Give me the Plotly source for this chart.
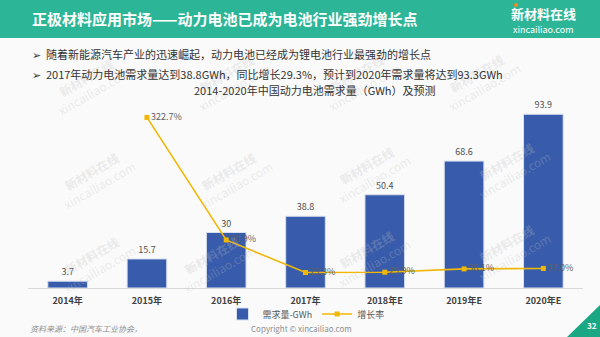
import plotly.graph_objects as go

categories = ["2014年", "2015年", "2016年", "2017年", "2018年E", "2019年E", "2020年E"]
demand = [3.7, 15.7, 30, 38.8, 50.4, 68.6, 93.9]
growth = [None, 322.7, 90.9, 29.3, 29.9, 36.1, 37.0]

W, H = 600, 337
FONT = "Noto Sans CJK SC, Noto Sans, sans-serif"

def px(x):
    return x / W

def py(y):
    return 1 - y / H

fig = go.Figure()

fig.add_trace(go.Bar(
    x=categories, y=demand, name="需求量-GWh",
    marker=dict(color="#385cab", line=dict(color="#d9e0ee", width=1)),
    width=0.5,
    text=[f"{v:g}" for v in demand], textposition="outside",
    textfont=dict(size=9, color="#505050", family=FONT),
    cliponaxis=False,
))

fig.add_trace(go.Scatter(
    x=categories, y=growth, name="增长率", yaxis="y2",
    mode="lines+markers+text",
    line=dict(color="#f2b705", width=1.6),
    marker=dict(symbol="square", size=5, color="#f2b705"),
    text=[("" if v is None else f"{v:.1f}%") for v in growth],
    textposition="middle right",
    textfont=dict(size=9, color="#606060", family=FONT),
    cliponaxis=False,
))

shapes = [
    dict(type="rect", xref="paper", yref="paper", x0=0, x1=1, y0=py(38), y1=1,
         fillcolor="#2cb596", line=dict(width=0), layer="below"),
    dict(type="path", xref="paper", yref="paper",
         path=f"M {px(567)} {py(337)} L {px(600)} {py(337)} L {px(600)} {py(305)} Z",
         fillcolor="#19a883", line=dict(width=0)),
    dict(type="circle", xref="paper", yref="paper",
         x0=px(514), x1=px(518), y0=py(7), y1=py(3),
         fillcolor="#f08a24", line=dict(width=0)),
]

def ann(text, x, y, size, color, xanchor="center", angle=0):
    return dict(text=text, x=px(x), y=py(y), xref="paper", yref="paper",
                xanchor=xanchor, yanchor="middle", showarrow=False, textangle=angle,
                font=dict(size=size, color=color, family=FONT))

annotations = []

# faint watermarks (drawn first, behind the rest)
for wx, wy in [(90, 85), (230, 80), (360, 80), (480, 80),
               (95, 178), (232, 178), (370, 172), (510, 168),
               (95, 262), (215, 262), (370, 256), (510, 250)]:
    annotations.append(ann("<b>新材料在线</b><br>xincailiao.com", wx, wy, 12,
                           "rgba(190,190,190,0.28)", angle=-30))

annotations += [
    ann("<b>正极材料应用市场——动力电池已成为电池行业强劲增长点</b>", 30, 19, 15, "white", "left"),
    ann("<b>新材料在线</b>", 543, 14, 13, "white"),
    ann("xincailiao.com", 543, 30, 9, "white"),
    ann("➢  随着新能源汽车产业的迅速崛起，动力电池已经成为锂电池行业最强劲的增长点",
        30, 54, 11, "#333333", "left"),
    ann("➢  2017年动力电池需求量达到38.8GWh，同比增长29.3%，预计到2020年需求量将达到93.3GWh",
        30, 74, 11, "#333333", "left"),
    ann("2014-2020年中国动力电池需求量（GWh）及预测", 315, 90, 11, "#333333"),
    ann("<i>资料来源：中国汽车工业协会，</i>", 28, 328, 8, "#909090", "left"),
    ann("Copyright © xincailiao.com", 301, 328, 8, "#909090"),
    ann("<b>32</b>", 592, 325, 8, "white"),
]

fig.update_layout(
    width=W, height=H,
    margin=dict(l=0, r=0, t=0, b=0),
    paper_bgcolor="#fafafa", plot_bgcolor="rgba(0,0,0,0)",
    font=dict(family=FONT),
    showlegend=True,
    legend=dict(orientation="h", x=px(306), xanchor="center", y=py(314), yanchor="middle",
                font=dict(size=9, color="#595959", family=FONT),
                bgcolor="rgba(0,0,0,0)", itemwidth=30, tracegroupgap=0),
    xaxis=dict(domain=[px(28), px(583)], showgrid=False, showline=True,
               linecolor="#d9d9d9", linewidth=1, ticks="",
               tickfont=dict(size=9, color="#404040", family=FONT),
               ticklabelstandoff=4, tickprefix="<b>", ticksuffix="</b>"),
    yaxis=dict(domain=[py(288), py(103)], range=[0, 100], visible=False),
    yaxis2=dict(domain=[py(288), py(103)], range=[0, 350], overlaying="y",
                side="right", visible=False),
    bargap=0.5,
    shapes=shapes, annotations=annotations,
)

fig.write_html("out.html")
